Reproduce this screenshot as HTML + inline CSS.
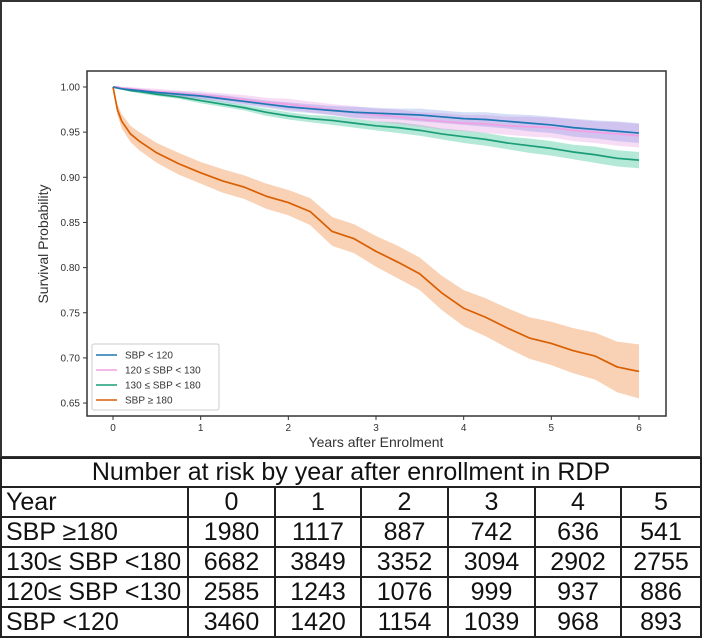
<!DOCTYPE html>
<html><head><meta charset="utf-8"><style>
body{margin:0;background:#fff;}
#wrap{position:relative;width:702px;height:641px;overflow:hidden;font-family:"Liberation Sans",sans-serif;}
table{position:absolute;left:0;top:457px;width:702px;border-collapse:collapse;table-layout:fixed;}
td{border:2px solid #222;font-size:25px;height:28px;padding:0 4px;text-align:center;line-height:28px;color:#111;box-sizing:border-box;}
td.l{text-align:left;}
tr.t td{height:29px;line-height:27px;}
tr.r td{height:30px;line-height:28px;}
</style></head><body>
<div id="wrap">
<svg id="chart" width="702" height="458" style="position:absolute;left:0;top:0">
<rect x="1" y="1" width="700" height="456" fill="#fff" stroke="#333" stroke-width="2"/>
</svg>
<table>
<colgroup><col style="width:187px"><col style="width:87px"><col style="width:86px"><col style="width:87px"><col style="width:87px"><col style="width:86px"><col></colgroup>
<tr class="t"><td colspan="7">Number at risk by year after enrollment in RDP</td></tr>
<tr class="r"><td class="l">Year</td><td>0</td><td>1</td><td>2</td><td>3</td><td>4</td><td>5</td></tr>
<tr class="r"><td class="l">SBP ≥180</td><td>1980</td><td>1117</td><td>887</td><td>742</td><td>636</td><td>541</td></tr>
<tr class="r"><td class="l">130≤ SBP &lt;180</td><td>6682</td><td>3849</td><td>3352</td><td>3094</td><td>2902</td><td>2755</td></tr>
<tr class="r"><td class="l">120≤ SBP &lt;130</td><td>2585</td><td>1243</td><td>1076</td><td>999</td><td>937</td><td>886</td></tr>
<tr class="r"><td class="l">SBP &lt;120</td><td>3460</td><td>1420</td><td>1154</td><td>1039</td><td>968</td><td>893</td></tr>
</table>
</div>
<script>
const times=[0,0.05,0.1,0.2,0.3,0.5,0.75,1,1.25,1.5,1.75,2,2.25,2.5,2.75,3,3.25,3.5,3.75,4,4.25,4.5,4.75,5,5.25,5.5,5.75,6];
const sbpLow=[1,0.999,0.998,0.997,0.996,0.994,0.992,0.99,0.987,0.984,0.981,0.978,0.976,0.974,0.972,0.971,0.97,0.969,0.967,0.965,0.964,0.962,0.96,0.958,0.955,0.953,0.951,0.949];
const sbpLowCI=[0,0.001,0.001,0.002,0.002,0.002,0.003,0.003,0.004,0.004,0.004,0.005,0.005,0.005,0.006,0.006,0.006,0.007,0.007,0.007,0.008,0.008,0.009,0.009,0.01,0.01,0.011,0.011];
const sbpMid=[1,1,0.999,0.998,0.997,0.995,0.993,0.991,0.989,0.986,0.983,0.981,0.978,0.975,0.972,0.969,0.967,0.964,0.962,0.96,0.959,0.957,0.956,0.955,0.952,0.95,0.948,0.946];
const sbpMidCI=[0,0.001,0.001,0.002,0.002,0.003,0.003,0.004,0.004,0.005,0.005,0.006,0.006,0.006,0.007,0.007,0.008,0.008,0.009,0.009,0.01,0.01,0.011,0.011,0.012,0.012,0.013,0.013];
const sbpHigh=[1,0.999,0.998,0.996,0.995,0.992,0.989,0.985,0.981,0.977,0.972,0.968,0.965,0.963,0.96,0.957,0.955,0.952,0.948,0.945,0.942,0.938,0.935,0.932,0.928,0.925,0.921,0.919];
const sbpHighCI=[0,0.001,0.001,0.001,0.002,0.002,0.002,0.003,0.003,0.003,0.004,0.004,0.004,0.005,0.005,0.005,0.006,0.006,0.006,0.007,0.007,0.007,0.008,0.008,0.008,0.009,0.009,0.009];
const sbpSevere=[1,0.975,0.962,0.948,0.94,0.927,0.915,0.905,0.896,0.889,0.879,0.872,0.862,0.84,0.832,0.818,0.806,0.793,0.772,0.755,0.745,0.733,0.722,0.716,0.708,0.702,0.69,0.685];
const sbpSevereCI=[0,0.006,0.008,0.009,0.01,0.011,0.012,0.012,0.013,0.013,0.014,0.014,0.015,0.016,0.016,0.017,0.018,0.018,0.019,0.02,0.021,0.022,0.023,0.024,0.025,0.026,0.028,0.03];
const xTicks=[0,1,2,3,4,5,6];
const yTicks=[0.65,0.70,0.75,0.80,0.85,0.90,0.95,1.00];
const legendLabels=["SBP < 120","120 ≤ SBP < 130","130 ≤ SBP < 180","SBP ≥ 180"];

const NS="http://www.w3.org/2000/svg";
const svg=document.getElementById('chart');
const X=v=>113+v*(639-113)/6;
const Y=v=>87+(1-v)*903;
function el(t,a,p){const e=document.createElementNS(NS,t);for(const k in a)e.setAttribute(k,a[k]);(p||svg).appendChild(e);return e;}
const pa=el('rect',{x:87,y:71,width:579,height:345,fill:'#fff',stroke:'#333','stroke-width':1.5});


function linePts(vals){return times.map((t,i)=>(i?'L':'M')+X(t)+','+Y(vals[i])).join('');}
function band(vals,ci){let d=linePts(vals.map((v,i)=>v+ci[i]));for(let i=times.length-1;i>=0;i--)d+='L'+X(times[i])+','+Y(vals[i]-ci[i]);return d+'Z';}
const series=[
 {v:sbpSevere,c:sbpSevereCI,col:'#d95f02',fill:'rgba(240,140,70,0.4)',n:'sbp-180'},
 {v:sbpHigh,c:sbpHighCI,col:'#1b9e77',fill:'rgba(40,190,140,0.35)',n:'sbp-130-180'},
 {v:sbpMid,c:sbpMidCI,col:'#f2a0e4',fill:'rgba(230,140,225,0.3)',n:'sbp-120-130'},
 {v:sbpLow,c:sbpLowCI,col:'#1f77b4',fill:'rgba(90,120,220,0.25)',n:'sbp-under-120'}];
series.forEach(s=>{
 const b=el('path',{d:band(s.v,s.c),fill:s.fill,stroke:'none'});
 
 
});
series.forEach(s=>{
 const l=el('path',{d:linePts(s.v),fill:'none',stroke:s.col,'stroke-width':1.7,'stroke-linejoin':'round'});
 
 
});
xTicks.forEach(t=>{
 el('line',{x1:X(t),x2:X(t),y1:416,y2:420,stroke:'#333'});
 const tx=el('text',{x:X(t),y:431,'font-size':10,'text-anchor':'middle',fill:'#333'});tx.textContent=t;
 
 
});
yTicks.forEach(t=>{
 el('line',{x1:83,x2:87,y1:Y(t),y2:Y(t),stroke:'#333'});
 const tx=el('text',{x:80,y:Y(t)+3.5,'font-size':10,'text-anchor':'end',fill:'#333'});tx.textContent=t.toFixed(2);
 
 
});
const xt=el('text',{x:376,y:447,'font-size':14,'text-anchor':'middle',fill:'#333'});xt.textContent='Years after Enrolment';


const yt=el('text',{x:0,y:0,'font-size':14,'text-anchor':'middle',fill:'#333',transform:'translate(48,244) rotate(-90)'});yt.textContent='Survival Probability';


const lg=el('rect',{x:92,y:344,width:127,height:66,fill:'#fff',stroke:'#ccc',rx:2});


const lcols=['#1f77b4','#f2a0e4','#1b9e77','#d95f02'];
legendLabels.forEach((lab,i)=>{
 const yy=355+i*15;
 el('line',{x1:96,x2:117,y1:yy,y2:yy,stroke:lcols[i],'stroke-width':1.6});
 const tx=el('text',{x:125,y:yy+3.5,'font-size':10,fill:'#333'});tx.textContent=lab;
 
 
});
</script>
</body></html>
